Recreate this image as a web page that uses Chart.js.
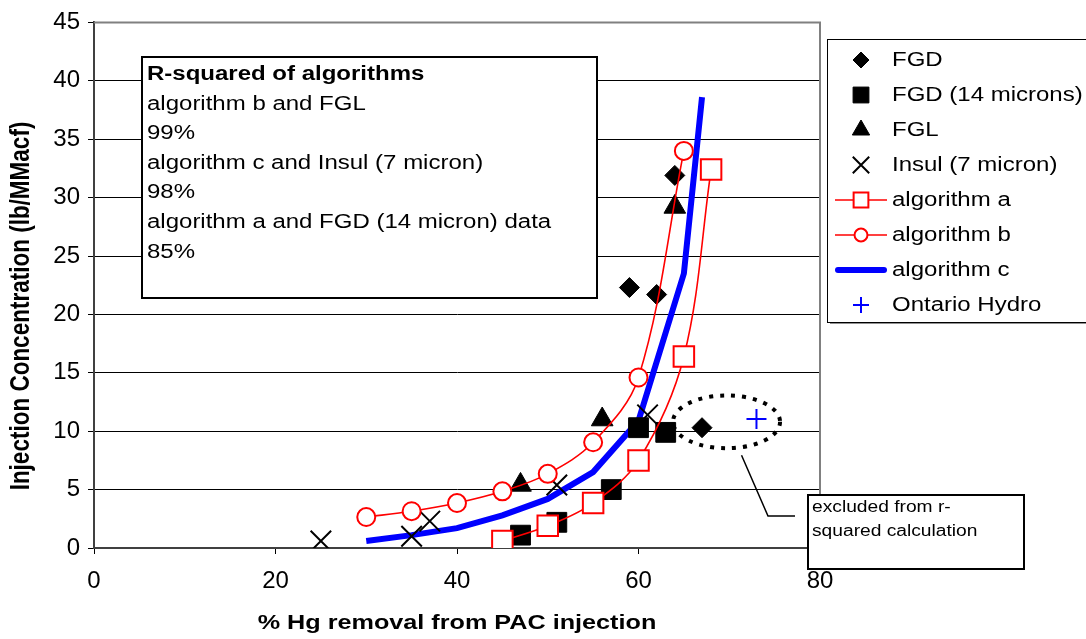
<!DOCTYPE html>
<html>
<head>
<meta charset="utf-8">
<script src="https://cdn.jsdelivr.net/npm/chart.js@4.4.1/dist/chart.umd.min.js"></script>
<style>
  html, body { margin: 0; padding: 0; background: #fff; }
  #wrap { width: 1086px; height: 639px; }
</style>
</head>
<body>
<div id="wrap"><canvas id="chart" width="1086" height="639"></canvas></div>
<script>
// values
const fgdX = [59, 62, 64, 67];
const fgdY = [22.3, 21.7, 31.9, 10.3];

const fgd14X = [47, 51, 57, 60, 63];
const fgd14Y = [1.1, 2.2, 5.0, 10.3, 9.9];

const fglX = [47, 56, 64];
const fglY = [5.4, 11.0, 29.2];

const insulX = [25, 35, 37, 51, 61];
const insulY = [0.6, 1.0, 2.3, 5.4, 11.4];

const algAX = [45, 50, 55, 60, 65, 68];
const algAY = [0.6, 1.9, 3.85, 7.5, 16.4, 32.4];

const algBX = [30, 35, 40, 45, 50, 55, 60, 65];
const algBY = [2.65, 3.15, 3.85, 4.85, 6.35, 9.05, 14.6, 34.0];

const algCX = [30, 35, 40, 45, 50, 55, 60, 65, 67];
const algCY = [0.6, 1.1, 1.7, 2.8, 4.2, 6.5, 10.9, 23.5, 38.6];

const ontarioX = [73];
const ontarioY = [11.05];

const xTicks = [0, 20, 40, 60, 80];
const yTicks = [0, 5, 10, 15, 20, 25, 30, 35, 40, 45];

const noteLines = [
    "R-squared of algorithms",
    "algorithm b and FGL",
    "99%",
    "algorithm c and Insul (7 micron)",
    "98%",
    "algorithm a and FGD (14 micron) data",
    "85%",
];
const calloutLines = ["excluded from r-", "squared calculation"];

const SX = 1.2; // text in the reference is drawn wide
const FONT = '"Liberation Sans", Arial, sans-serif';

function pts(xs, ys) {
    return xs.map((x, i) => ({ x: x, y: ys[i] }));
}

function wideText(ctx, text, x, y, font, align) {
    ctx.save();
    ctx.font = font;
    ctx.fillStyle = "#000";
    ctx.textBaseline = "middle";
    ctx.textAlign = align || "left";
    ctx.translate(x, y);
    ctx.scale(SX, 1);
    ctx.fillText(text, 0, 0);
    ctx.restore();
}

const decorations = {
    id: "decorations",
    beforeDatasetsDraw(chart) {
        const ctx = chart.ctx;
        const a = chart.chartArea;
        // grey plot frame top and right
        ctx.save();
        ctx.strokeStyle = "#808080";
        ctx.lineWidth = 2;
        ctx.beginPath();
        ctx.moveTo(a.left, a.top);
        ctx.lineTo(a.right, a.top);
        ctx.lineTo(a.right, a.bottom);
        ctx.stroke();
        ctx.restore();
    },
    afterDraw(chart) {
        const ctx = chart.ctx;
        const xs = chart.scales.x;
        const ys = chart.scales.y;

        // r-squared note
        ctx.save();
        ctx.fillStyle = "#fff";
        ctx.fillRect(142, 57, 455, 241);
        ctx.strokeStyle = "#000";
        ctx.lineWidth = 2;
        ctx.strokeRect(142, 57, 455, 241);
        ctx.restore();
        noteLines.forEach((t, i) => {
            const f = (i === 0 ? "bold " : "") + "20px " + FONT;
            wideText(ctx, t, 147, 74.5 + i * 29.6, f);
        });

        // dotted ellipse round the excluded points
        const cx = xs.getPixelForValue(69.7);
        const cy = ys.getPixelForValue(10.8);
        const rx = xs.getPixelForValue(69.7 + 5.9) - cx;
        const ry = cy - ys.getPixelForValue(10.8 + 2.26);
        ctx.save();
        ctx.strokeStyle = "#000";
        ctx.lineWidth = 4;
        ctx.setLineDash([4, 7]);
        ctx.beginPath();
        ctx.ellipse(cx, cy, rx, ry, 0, 0, Math.PI * 2);
        ctx.stroke();
        ctx.restore();

        // callout
        ctx.save();
        ctx.strokeStyle = "#000";
        ctx.lineWidth = 1.5;
        ctx.beginPath();
        ctx.moveTo(cx + 15, cy + ry + 7);
        ctx.lineTo(768, 516);
        ctx.lineTo(795, 516);
        ctx.stroke();
        ctx.fillStyle = "#fff";
        ctx.fillRect(808, 495, 216, 74);
        ctx.lineWidth = 2;
        ctx.strokeRect(808, 495, 216, 74);
        ctx.restore();
        calloutLines.forEach((t, i) => {
            wideText(ctx, t, 812, 508 + i * 24, "16px " + FONT);
        });

        // axis titles
        wideText(ctx, "% Hg removal from PAC injection", (chart.chartArea.left + chart.chartArea.right) / 2, 623,
            "bold 21px " + FONT, "center");
        ctx.save();
        ctx.translate(22, 306);
        ctx.rotate(-Math.PI / 2);
        ctx.scale(1, SX);
        ctx.font = "bold 22.5px " + FONT;
        ctx.fillStyle = "#000";
        ctx.textAlign = "center";
        ctx.textBaseline = "middle";
        ctx.fillText("Injection Concentration (lb/MMacf)", 0, 0);
        ctx.restore();

        // legend
        const lx = 827, ly = 39, lw = 270, lh = 283;
        ctx.save();
        ctx.fillStyle = "#fff";
        ctx.fillRect(lx, ly, lw, lh);
        ctx.fillStyle = "#909090";
        ctx.fillRect(lx + 3, ly + lh, lw, 2);
        ctx.strokeStyle = "#000";
        ctx.lineWidth = 1;
        ctx.strokeRect(lx + 0.5, ly + 0.5, lw, lh);
        ctx.restore();
        chart.data.datasets.forEach((ds, i) => {
            const yy = 60 + i * 35;
            ctx.save();
            if (ds.showLine) {
                ctx.strokeStyle = ds.borderColor;
                ctx.lineWidth = ds.borderWidth;
                ctx.lineCap = ds.borderWidth > 3 ? "round" : "butt";
                ctx.beginPath();
                ctx.moveTo(ds.borderWidth > 3 ? 838 : 835, yy);
                ctx.lineTo(ds.borderWidth > 3 ? 884 : 887, yy);
                ctx.stroke();
            }
            if (ds.pointRadius > 0) {
                ctx.fillStyle = ds.pointBackgroundColor;
                ctx.strokeStyle = ds.pointBorderColor;
                ctx.lineWidth = ds.pointBorderWidth;
                Chart.helpers.drawPoint(ctx, {
                    pointStyle: ds.pointStyle,
                    radius: ds.pointRadius * (ds.showLine ? 0.72 : 0.8),
                    borderWidth: ds.pointBorderWidth,
                    rotation: 0,
                }, 861, yy);
            }
            ctx.restore();
            wideText(ctx, ds.label, 892, yy, "20px " + FONT);
        });
    },
};

function markers(label, xs, ys, style, radius, fill, stroke, width, order) {
    return {
        label: label,
        data: pts(xs, ys),
        showLine: false,
        pointStyle: style,
        pointRadius: radius,
        pointBackgroundColor: fill,
        pointBorderColor: stroke,
        pointBorderWidth: width,
        order: order,
    };
}

function curve(label, xs, ys, style, radius, color, lineWidth, tension, order) {
    return {
        label: label,
        data: pts(xs, ys),
        showLine: true,
        borderColor: color,
        borderWidth: lineWidth,
        tension: tension,
        pointStyle: style,
        pointRadius: radius,
        pointBackgroundColor: "#fff",
        pointBorderColor: color,
        pointBorderWidth: 2,
        order: order,
    };
}

const datasets = [
    markers("FGD", fgdX, fgdY, "rectRot", 10, "#000", "#000", 1, 5),
    markers("FGD (14 microns)", fgd14X, fgd14Y, "rect", 14, "#000", "#000", 1, 6),
    markers("FGL", fglX, fglY, "triangle", 12.5, "#000", "#000", 1, 4),
    markers("Insul (7 micron)", insulX, insulY, "crossRot", 14.5, "#000", "#000", 2, 3),
    curve("algorithm a", algAX, algAY, "rect", 14.5, "#ff0000", 1.6, 0.35, 2),
    curve("algorithm b", algBX, algBY, "circle", 9, "#ff0000", 1.6, 0.35, 1),
    curve("algorithm c", algCX, algCY, "circle", 0, "#0000ff", 6, 0, 9),
    markers("Ontario Hydro", ontarioX, ontarioY, "cross", 10, "#0000ff", "#0000ff", 2, 0),
];

new Chart(document.getElementById("chart").getContext("2d"), {
    type: "scatter",
    data: { datasets: datasets },
    options: {
        responsive: false,
        animation: false,
        devicePixelRatio: 1,
        layout: { padding: { left: 0, top: 20, right: 266, bottom: 0 } },
        plugins: {
            legend: { display: false },
            tooltip: { enabled: false },
        },
        scales: {
            x: {
                type: "linear",
                min: 0,
                max: 80,
                afterBuildTicks: (scale) => { scale.ticks = xTicks.map((v) => ({ value: v })); },
                afterFit: (scale) => { scale.height = 91; },
                grid: { drawOnChartArea: false, tickLength: 6, tickColor: "#000" },
                border: { color: "#404040", width: 2 },
                ticks: {
                    color: "#000",
                    padding: 13,
                    maxRotation: 0,
                    font: { family: FONT, size: 24 },
                },
            },
            y: {
                type: "linear",
                min: 0,
                max: 45,
                afterBuildTicks: (scale) => { scale.ticks = yTicks.map((v) => ({ value: v })); },
                afterFit: (scale) => { scale.width = 94; },
                grid: {
                    color: (c) => (c.tick && c.tick.value === 45 ? "rgba(0,0,0,0)" : "#000"),
                    lineWidth: 1,
                    tickLength: 6,
                    tickColor: "#000",
                },
                border: { color: "#404040", width: 2 },
                ticks: {
                    color: "#000",
                    padding: 8,
                    font: { family: FONT, size: 24 },
                },
            },
        },
    },
    plugins: [decorations],
});
</script>
</body>
</html>
